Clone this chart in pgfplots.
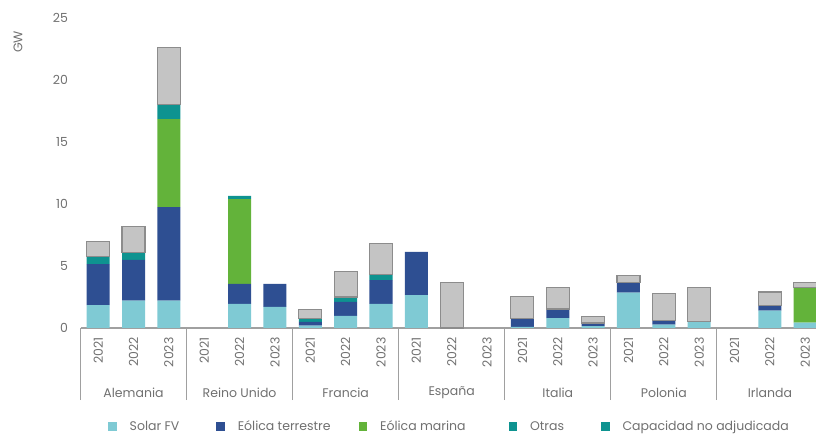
\documentclass[border=0pt]{standalone}
\usepackage{pgfplots}
\pgfplotsset{compat=1.18}
\usepackage{pgfplotstable}
\usepackage{fontspec}
\setmainfont{Poppins}
\definecolor{solar}{HTML}{7FCAD4}
\definecolor{terr}{HTML}{2E4F92}
\definecolor{marina}{HTML}{63B33A}
\definecolor{otras}{HTML}{0E9390}
\definecolor{noadj}{HTML}{C4C4C4}
\definecolor{noadjb}{HTML}{8C8C8C}
\definecolor{txt}{HTML}{707070}
\definecolor{axl}{HTML}{A0A0A0}

\pgfplotstableread{
x solar terr marina otras noadj
0  1.85 3.30 0    0.60 1.25
1  2.20 3.30 0    0.60 2.10
2  2.20 7.55 7.10 1.15 4.60
3  0    0    0    0    0
4  1.95 1.60 6.85 0.25 0
5  1.70 1.85 0    0    0
6  0.20 0.30 0    0.30 0.70
7  0.97 1.13 0    0.40 2.07
8  1.94 1.93 0    0.48 2.48
9  2.66 3.47 0    0    0
10 0    0    0    0    3.65
11 0    0    0    0    0
12 0.10 0.63 0    0    1.82
13 0.80 0.73 0    0    1.75
14 0.15 0.25 0    0    0.54
15 2.85 0.80 0    0    0.55
16 0.28 0.32 0    0    2.17
17 0.50 0    0    0    2.80
18 0    0    0    0    0
19 1.40 0.40 0    0    1.10
20 0.44 0    2.81 0    0.40
}\datatable

\tikzset{lbl/.style={font=\fontsize{12.5}{14}\selectfont, text=txt}}
\pgfplotsset{
  common/.style={
    at={(80.5pt,107pt)}, anchor=south west,
    scale only axis, width=742.4pt, height=310pt,
    ybar stacked, bar width=23pt,
    xmin=-0.5, xmax=20.5, ymin=0, ymax=25,
    clip=false,
  },
}

\begin{document}
\begin{tikzpicture}
\useasboundingbox (0,0) rectangle (816pt,435pt);
% colored stack
\begin{axis}[
  common,
  axis lines*=left,
  x axis line style={draw=axl, line width=1.2pt},
  y axis line style={draw=none},
  ytick={0,5,10,15,20,25},
  ytick style={draw=none},
  yticklabel style={lbl, xshift=-9pt},
  /pgf/number format/assume math mode=true,
  xtick={0,...,20},
  xticklabels={2021,2022,2023,2021,2022,2023,2021,2022,2023,2021,2022,2023,2021,2022,2023,2021,2022,2023,2021,2022,2023},
  xticklabel style={rotate=90, anchor=east, lbl, xshift=-6pt, yshift=0pt},
  xtick style={draw=none},
  legend columns=5,
  legend style={draw=none, at={(0.497,-0.318)}, anchor=center, lbl,
    /tikz/column 1/.style={column sep=11pt},
    /tikz/column 3/.style={column sep=11pt},
    /tikz/column 5/.style={column sep=11pt},
    /tikz/column 7/.style={column sep=11pt},
    /tikz/column 9/.style={column sep=11pt},
    /tikz/column 2/.style={column sep=35pt},
    /tikz/column 4/.style={column sep=26pt},
    /tikz/column 6/.style={column sep=41pt},
    /tikz/column 8/.style={column sep=35pt}},
  legend image code/.code={\fill[#1,draw=none] (0pt,-4pt) rectangle (8.5pt,4.5pt);},
]
\addplot[fill=solar, draw=none] table[x=x, y=solar] {\datatable};
\addlegendentry{Solar FV}
\addplot[fill=terr, draw=none] table[x=x, y=terr] {\datatable};
\addlegendentry{Eólica terrestre}
\addplot[fill=marina, draw=none] table[x=x, y=marina] {\datatable};
\addlegendentry{Eólica marina}
\addplot[fill=otras, draw=none] table[x=x, y=otras] {\datatable};
\addlegendentry{Otras}
\addlegendimage{fill=otras, draw=none}
\addlegendentry{Capacidad no adjudicada}
\node[lbl, yshift=-65pt] at (axis cs:1,0) {Alemania};
\node[lbl, yshift=-65pt] at (axis cs:4,0) {Reino Unido};
\node[lbl, yshift=-65pt] at (axis cs:7,0) {Francia};
\node[lbl, yshift=-65pt] at (axis cs:10,0) {España};
\node[lbl, yshift=-65pt] at (axis cs:13,0) {Italia};
\node[lbl, yshift=-65pt] at (axis cs:16,0) {Polonia};
\node[lbl, yshift=-65pt] at (axis cs:19,0) {Irlanda};
\end{axis}
% unallocated capacity on top of the stack, and group separators
\begin{axis}[
  common,
  axis lines*=left,
  axis line style={draw=none},
  ytick=\empty,
  xtick={-0.5,2.5,5.5,8.5,11.5,14.5,17.5,20.5},
  xticklabels={},
  xtick align=outside,
  major tick length=72pt,
  xtick style={draw=axl, line width=0.9pt},
]
\addplot[fill=none, draw=none] table[x=x, y expr={\thisrow{noadj}>0 ? \thisrow{solar}+\thisrow{terr}+\thisrow{marina}+\thisrow{otras} : nan}] {\datatable};
\addplot[fill=noadj, draw=noadjb, line width=1.1pt] table[x=x, y expr={\thisrow{noadj}>0 ? \thisrow{noadj} : nan}] {\datatable};
\end{axis}
\node[rotate=90, lbl] at (18pt,393pt) {GW};
\end{tikzpicture}
\end{document}
